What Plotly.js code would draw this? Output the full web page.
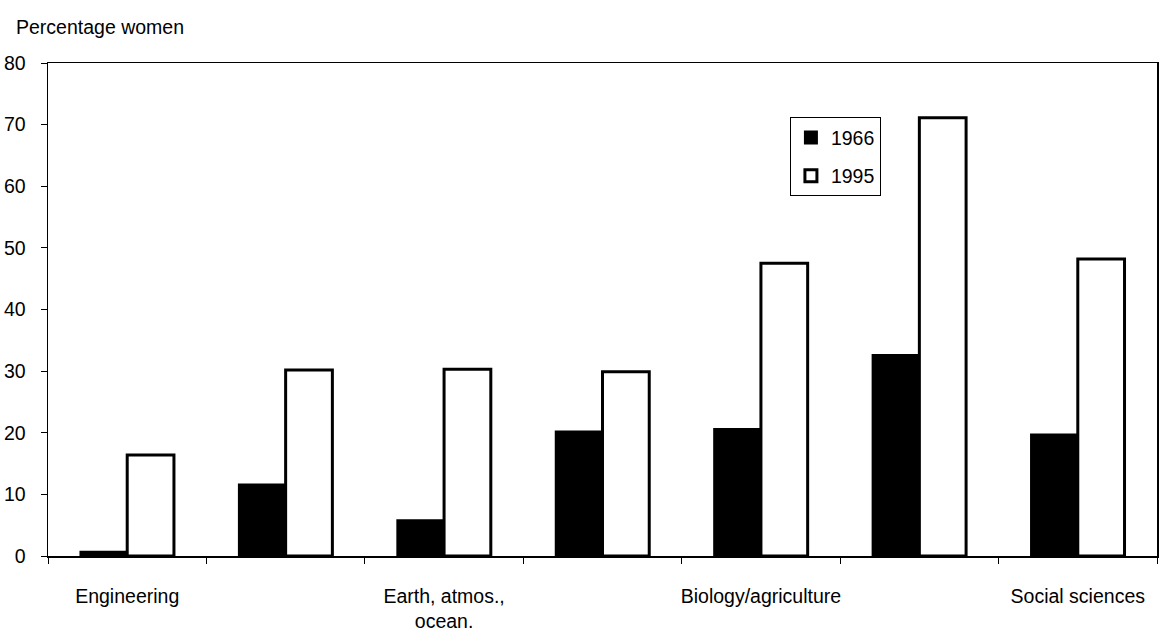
<!DOCTYPE html>
<html>
<head>
<meta charset="utf-8">
<script src="https://cdn.plot.ly/plotly-3.0.1.min.js"></script>
<style>html,body{margin:0;padding:0;background:#fff}#chart{width:1162px;height:644px}</style>
</head>
<body>
<div id="chart"></div>
<script>
// Data
const categories = ["Engineering", "Physical sciences", "Earth, atmos., ocean.", "Math/computer sciences", "Biology/agriculture", "Psychology", "Social sciences"];
const tickLabels = ["Engineering", "", "Earth, atmos.,<br>ocean.", "", "Biology/agriculture", "", "Social sciences"];
const values1966 = [0.7, 11.6, 5.8, 20.2, 20.6, 32.6, 19.7];
const values1995 = [16.4, 30.2, 30.3, 29.9, 47.5, 71.1, 48.2];
const yTicks = [0, 10, 20, 30, 40, 50, 60, 70, 80];

const font = {family: "Liberation Sans, Arial, sans-serif", size: 19.5, color: "#000"};

const traces = [
  {type: "bar", name: "1966", x: categories, y: values1966, legendgroup: "a",
   marker: {color: "#000", line: {color: "#000", width: 2}}},
  {type: "bar", name: "1995", x: categories, y: values1995, legendgroup: "b",
   marker: {color: "#fff", line: {color: "#000", width: 3}}}
];

const layout = {
  width: 1162, height: 644,
  margin: {l: 48, r: 5, t: 63, b: 88},
  paper_bgcolor: "#fff", plot_bgcolor: "#fff",
  font: font,
  barmode: "group", bargap: 0.41, bargroupgap: 0,
  showlegend: true,
  legend: {x: 0.669, y: 0.89, xanchor: "left", yanchor: "top",
           bordercolor: "#000", borderwidth: 1, bgcolor: "#fff",
           font: font, tracegroupgap: 10, traceorder: "grouped", itemwidth: 30},
  xaxis: {
    type: "category",
    tickvals: categories, ticktext: tickLabels,
    tickson: "boundaries", ticks: "outside", ticklen: 6, tickcolor: "#000", tickwidth: 1,
    showline: true, linecolor: "#000", linewidth: 1.5, mirror: true,
    showgrid: false, zeroline: false, ticklabelstandoff: 22,
    tickfont: font, tickangle: 0
  },
  yaxis: {
    range: [0, 80], tickvals: yTicks,
    ticks: "outside", ticklen: 6, tickcolor: "#000", tickwidth: 1,
    showline: true, linecolor: "#000", linewidth: 1.5, mirror: true,
    showgrid: false, zeroline: false, ticklabelstandoff: 11,
    tickfont: font
  },
  annotations: [{
    text: "Percentage women", xref: "paper", yref: "paper",
    x: -0.031, y: 1.073, xanchor: "left", yanchor: "middle",
    showarrow: false, font: {family: font.family, size: 19.5, color: "#000"}
  }]
};

Plotly.newPlot("chart", traces, layout, {displayModeBar: false, staticPlot: true});
</script>
</body>
</html>
